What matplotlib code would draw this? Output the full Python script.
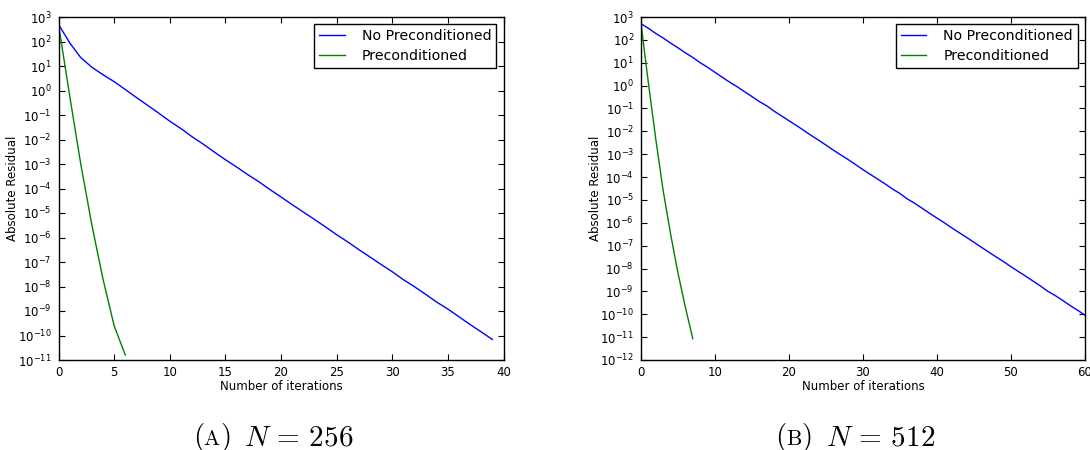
import matplotlib
matplotlib.use("Agg")
import matplotlib.pyplot as plt
from matplotlib.ticker import LogLocator, NullLocator, MultipleLocator
import numpy as np

# residual history, N = 256
resid_plain_256 = [
    5.0e2, 8.9e1, 2.2e1, 8.9e0, 4.4e0, 2.3e0, 1.1e0, 5.2e-1, 2.5e-1, 1.2e-1,
    5.6e-2, 2.8e-2, 1.3e-2, 6.5e-3, 3.1e-3, 1.5e-3, 7.6e-4, 3.7e-4, 1.9e-4, 9.1e-5,
    4.5e-5, 2.2e-5, 1.1e-5, 5.5e-6, 2.7e-6, 1.3e-6, 6.6e-7, 3.2e-7, 1.6e-7, 7.9e-8,
    4.0e-8, 1.9e-8, 9.8e-9, 4.8e-9, 2.3e-9, 1.2e-9, 5.8e-10, 2.8e-10, 1.4e-10, 6.9e-11,
]
resid_prec_256 = [5.0e2, 6.3e-1, 1.0e-3, 3.2e-6, 2.0e-8, 2.5e-10, 1.6e-11]

# residual history, N = 512
resid_plain_512 = [
    5.1e2, 3.2e2, 1.9e2, 1.2e2, 7.2e1, 4.5e1, 2.7e1, 1.7e1, 1.0e1, 6.3e0,
    3.8e0, 2.3e0, 1.4e0, 8.9e-1, 5.4e-1, 3.3e-1, 2.0e-1, 1.3e-1, 7.6e-2, 4.7e-2,
    2.9e-2, 1.8e-2, 1.1e-2, 6.6e-3, 4.1e-3, 2.5e-3, 1.5e-3, 9.3e-4, 5.8e-4, 3.5e-4,
    2.1e-4, 1.3e-4, 8.1e-5, 5.0e-5, 3.0e-5, 1.9e-5, 1.1e-5, 7.1e-6, 4.3e-6, 2.6e-6,
    1.6e-6, 1.0e-6, 6.0e-7, 3.7e-7, 2.3e-7, 1.4e-7, 8.5e-8, 5.2e-8, 3.2e-8, 2.0e-8,
    1.2e-8, 7.4e-9, 4.6e-9, 2.8e-9, 1.7e-9, 1.0e-9, 6.5e-10, 4.0e-10, 2.4e-10, 1.5e-10,
    9.1e-11,
]
resid_prec_512 = [5.1e2, 1.3e0, 4.5e-3, 2.5e-5, 3.2e-7, 6.3e-9, 2.0e-10, 8.5e-12]

panels = [
    dict(plain=resid_plain_256, prec=resid_prec_256, xmax=40, xstep=5,
         ymin=1e-11, tag="A", n=256),
    dict(plain=resid_plain_512, prec=resid_prec_512, xmax=60, xstep=10,
         ymin=1e-12, tag="B", n=512),
]

plt.rcParams.update({
    "font.family": "DejaVu Sans",
    "font.size": 8.5,
    "axes.linewidth": 1.0,
    "xtick.direction": "in",
    "ytick.direction": "in",
    "xtick.top": True,
    "ytick.right": True,
    "xtick.major.size": 4,
    "ytick.major.size": 4,
    "xtick.major.pad": 4,
    "ytick.major.pad": 5,
    "lines.linewidth": 1.0,
})

W, H = 1090, 450
fig = plt.figure(figsize=(W / 100, H / 100), dpi=100)
fig.patch.set_facecolor("white")

axes_px = [(58.5, 17, 445, 343), (641, 17, 444, 343)]


def draw_caption(fig, xc_px, base_px, tag, n):
    # "(A) N = 256" with the letter set in small caps
    r = fig.canvas.get_renderer()
    pieces = [(r"$($", 21), (r"$\mathrm{%s}$" % tag, 15.5), (r"$)$", 21),
              (r"$N\,=\,%d$" % n, 21)]
    gaps = [0, -1.5, -0.5, 14]
    texts, x = [], 0.0
    for (s, size), gap in zip(pieces, gaps):
        x += gap
        t = fig.text(0, 0, s, fontsize=size, va="baseline", ha="left",
                     math_fontfamily="cm")
        w = t.get_window_extent(r).width
        texts.append((t, x))
        x += w
    x0 = xc_px - x / 2
    for t, off in texts:
        t.set_position(((x0 + off) / W, 1 - base_px / H))


for p, (lx, ty, w, h) in zip(panels, axes_px):
    ax = fig.add_axes([lx / W, 1 - (ty + h) / H, w / W, h / H])
    ax.semilogy(np.arange(len(p["plain"])), p["plain"], color="b",
                label="No Preconditioned")
    ax.semilogy(np.arange(len(p["prec"])), p["prec"], color=(0, 0.5, 0),
                label="Preconditioned")
    ax.set_xlim(0, p["xmax"])
    ax.set_ylim(p["ymin"], 1e3)
    ax.xaxis.set_major_locator(MultipleLocator(p["xstep"]))
    ax.yaxis.set_major_locator(LogLocator(base=10, numticks=30))
    ax.yaxis.set_minor_locator(NullLocator())
    ax.set_xlabel("Number of iterations", labelpad=1)
    ax.set_ylabel("Absolute Residual", labelpad=-1)
    leg = ax.legend(loc="upper right", fontsize=10.2, fancybox=False,
                    framealpha=1, edgecolor="black", handlelength=1.8,
                    handletextpad=1.2, borderpad=0.35, labelspacing=0.4,
                    borderaxespad=0.5)
    leg.get_frame().set_linewidth(1.0)
    draw_caption(fig, lx + w / 2 - 8, 445, p["tag"], p["n"])

fig.savefig("out.png", dpi=100, facecolor="white")
